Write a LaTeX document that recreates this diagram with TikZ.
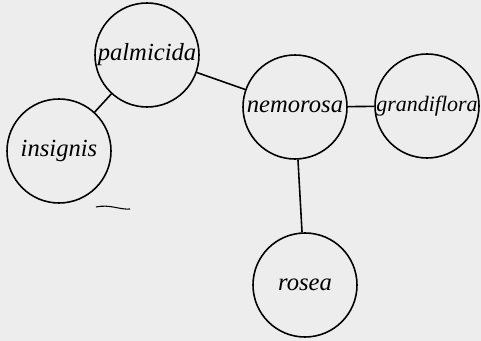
\documentclass[tikz,border=0pt]{standalone}
\usepackage{fontspec}
\setmainfont{Liberation Serif}
\begin{document}
\begin{tikzpicture}[
        species/.style={draw, circle, line width=0.9pt, inner sep=0pt,
                        minimum size=2.08cm, font=\fontsize{14}{16}\selectfont\itshape},
        link/.style={line width=0.9pt}
      ]
        \fill[black!7] (0,0) rectangle (9.62,-6.82);
        \useasboundingbox (0,0) rectangle (9.62,-6.82);

        \node[species] (palmicida) at (2.94,-1.10) {palmicida};
        \node[species] (insignis) at (1.18,-3.02) {insignis};
        \node[species] (nemorosa) at (5.90,-2.14) {nemorosa};
        \node[species, font=\fontsize{12.5}{15}\selectfont\itshape] (grandiflora) at (8.54,-2.12) {grandiflora};
        \node[species] (rosea) at (6.10,-5.70) {rosea};

        \draw[link] (palmicida) -- (insignis);
        \draw[link] (palmicida) -- (nemorosa);
        \draw[link] (nemorosa) -- (grandiflora);
        \draw[link] (nemorosa) -- (rosea);

        \draw[line width=0.6pt] (1.92,-4.14) .. controls (2.2,-4.08) and (2.4,-4.2) .. (2.6,-4.18);
      \end{tikzpicture}
\end{document}
